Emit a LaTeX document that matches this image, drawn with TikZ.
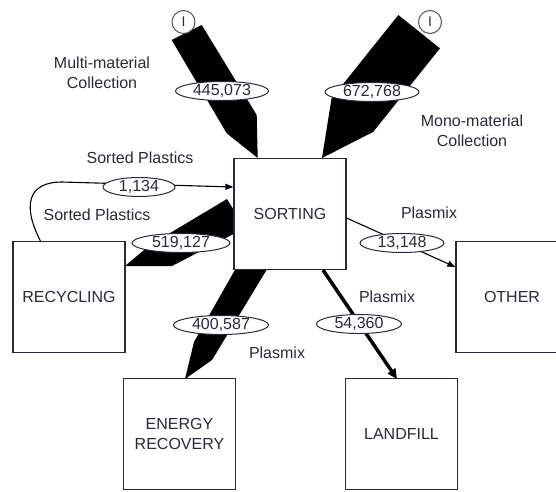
\documentclass[tikz,border=0pt]{standalone}
\usepackage{fontspec}
\setmainfont{Liberation Sans}
\usetikzlibrary{shapes.geometric,arrows.meta,calc}
\definecolor{ink}{RGB}{45,40,55}
\begin{document}
\begin{tikzpicture}[x=1pt,y=-1pt,
  lab/.style={font=\fontsize{16}{20}\selectfont, text=ink, align=center, inner sep=0pt},
  box/.style={draw=ink, line width=1.2pt, fill=white, minimum width=112pt, minimum height=111pt, inner sep=0pt, font=\fontsize{16}{20}\selectfont, text=ink, align=center},
  val/.style={ellipse, draw=ink, line width=1pt, fill=white, inner sep=0pt, minimum height=19pt, font=\fontsize{16}{18}\selectfont, text=ink},
  src/.style={circle, draw=ink!80, line width=1pt, fill=white, minimum size=23pt, inner sep=0pt, font=\fontsize{14}{14}\selectfont, text=ink},
  flow/.style={fill=black},
  thin/.style={draw=black, line width=1.1pt, -{Triangle[length=8pt,width=6pt]}}
]
\useasboundingbox (0,0) rectangle (556,491);

% thick flows (drawn first, boxes cover their roots)
\fill[flow] (171.7,40) -- (201.7,25) -- (256.7,115) -- (257.7,158) -- (226.7,133.3) -- cycle;
\fill[flow] (398.3,15) -- (440,48.3) -- (373.2,131.9) -- (322,158) -- (331.5,98.6) -- cycle;
\fill[flow] (227,199) -- (245,228) -- (172,266) -- (125,266) -- (150,245) -- cycle;
\fill[flow] (240,261) -- (272,261) -- (212,360) -- (185,379) -- (194,342) -- cycle;

% boxes
\node[box] (sort) at (290,214) {SORTING};
\node[box] (rec) at (69,297) {RECYCLING};
\node[box] (oth) at (512,297) {OTHER};
\node[box] (ener) at (179.5,434) {ENERGY\\RECOVERY};
\node[box] (land) at (401.5,434) {LANDFILL};

% input circles
\node[src] (in1) at (183.5,22) {I};
\node[src] (in2) at (430,22) {I};

% thin flows
\coordinate (c1) at ($(rec.north west)+(28,0)$);
\draw[thin] (c1) .. controls (22,205) and (28,182) .. (62,182) -- (sort.west |- 0,187);
\draw[thin] (sort.east |- 0,218) -- (oth.west |- 0,267);
\draw[draw=black, line width=3.5pt, -{Triangle[length=10pt,width=9pt]}] (323,270) -- (397,379);

% value ellipses
\node[val, minimum width=93pt] (v1) at (222,91) {445,073};
\node[val, minimum width=94pt] (v2) at (372,92) {672,768};
\node[val, minimum width=72pt] (v3) at (139,187) {1,134};
\node[val, minimum width=98pt] (v4) at (181,243) {519,127};
\node[val, minimum width=84pt] (v5) at (402,243) {13,148};
\node[val, minimum width=85pt] (v6) at (359,324) {54,360};
\node[val, minimum width=95pt] (v7) at (221,325) {400,587};

% labels
\node[lab] (l1) at (102,73) {Multi-material\\Collection};
\node[lab] (l2) at (472,131) {Mono-material\\Collection};
\node[lab] (l3) at (140,158) {Sorted Plastics};
\node[lab] (l4) at (97,215) {Sorted Plastics};
\node[lab] (l5) at (429,213) {Plasmix};
\node[lab] (l6) at (387,297) {Plasmix};
\node[lab] (l7) at (277,353) {Plasmix};
\end{tikzpicture}
\end{document}
